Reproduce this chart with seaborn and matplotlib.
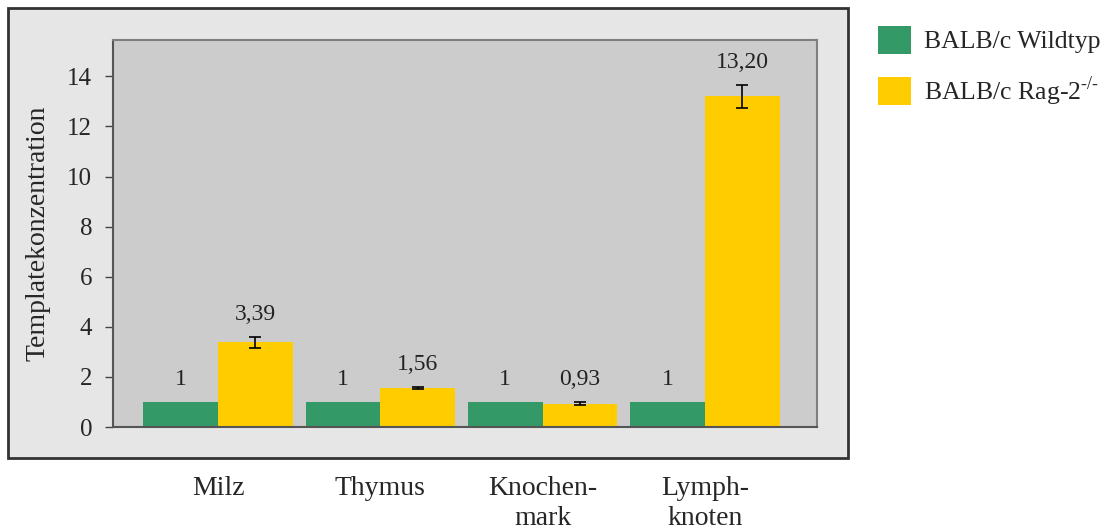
import matplotlib
matplotlib.use("Agg")
import matplotlib.pyplot as plt
from matplotlib.patches import Rectangle
import pandas as pd
import seaborn as sns

organs = ["Milz", "Thymus", "Knochen-\nmark", "Lymph-\nknoten"]
strains = ["BALB/c Wildtyp", r"BALB/c Rag-2$^{\text{-/-}}$"]
wildtyp = [1, 1, 1, 1]
rag2 = [3.39, 1.56, 0.93, 13.20]
wildtyp_err = [0, 0, 0, 0]
rag2_err = [0.22, 0.03, 0.07, 0.45]
wildtyp_labels = ["1", "1", "1", "1"]
rag2_labels = ["3,39", "1,56", "0,93", "13,20"]
yticks = [0, 2, 4, 6, 8, 10, 12, 14]
colors = ["#339966", "#FFCC00"]

sns.set_style("white")
plt.rcParams["font.family"] = ["Liberation Serif", "DejaVu Serif"]
plt.rcParams["mathtext.fontset"] = "custom"
plt.rcParams["mathtext.rm"] = "Liberation Serif"

df = pd.DataFrame({
    "Organ": organs * 2,
    "Stamm": [strains[0]] * len(organs) + [strains[1]] * len(organs),
    "Wert": wildtyp + rag2,
})

W, H = 1112, 530
fig = plt.figure(figsize=(W / 100, H / 100), dpi=100)

# grey chart frame behind the plot area
fig.add_artist(Rectangle((8 / W, 1 - 458 / H), 840 / W, 450 / H,
                         transform=fig.transFigure, facecolor="#E6E6E6",
                         edgecolor="#333333", lw=2, zorder=-1))

ax = fig.add_axes([113 / W, 1 - 427 / H, 704 / W, 387 / H])
ax.set_facecolor("#CCCCCC")

sns.barplot(data=df, x="Organ", y="Wert", hue="Stamm", palette=colors,
            width=0.92, saturation=1, errorbar=None, linewidth=0, ax=ax)

# error bars and value labels per series
for cont, vals, errs, labs in zip(ax.containers,
                                  [wildtyp, rag2],
                                  [wildtyp_err, rag2_err],
                                  [wildtyp_labels, rag2_labels]):
    xs = [b.get_x() + b.get_width() / 2 for b in cont]
    if any(errs):
        ax.errorbar(xs, vals, yerr=errs, fmt="none", ecolor="black",
                    elinewidth=1.2, capsize=4, capthick=1.2)
    for x, v, e, lab in zip(xs, vals, errs, labs):
        ax.text(x, v + e + 0.9, lab, ha="center", va="center",
                fontsize=17, color="#222222")

ax.set_xlim(-0.647, 3.69)
ax.set_ylim(0, 15.45)
ax.set_yticks(yticks)
ax.tick_params(axis="y", left=True, direction="out", length=6, width=1,
               pad=9, labelsize=18, color="#444444")
ax.tick_params(axis="x", bottom=False, length=0, pad=35, labelsize=20)
for t in ax.get_xticklabels():
    t.set_linespacing(1.3)
ax.set_xlabel("")
ax.set_ylabel("Templatekonzentration", fontsize=20)
ax.yaxis.set_label_coords(-63 / 704, 0.5)

for s in ["top", "right"]:
    ax.spines[s].set_color("#7F7F7F")
    ax.spines[s].set_linewidth(1.5)
for s in ["left", "bottom"]:
    ax.spines[s].set_color("#555555")
    ax.spines[s].set_linewidth(1.5)

sns.move_legend(ax, "upper left", bbox_to_anchor=(878 / W, 1 - 26 / H),
                bbox_transform=fig.transFigure, title=None, frameon=False,
                fontsize=18.5, handlelength=1.28, handleheight=1.28,
                handletextpad=0.5, labelspacing=0.8, borderpad=0,
                borderaxespad=0)

fig.savefig("out.png", dpi=100)
